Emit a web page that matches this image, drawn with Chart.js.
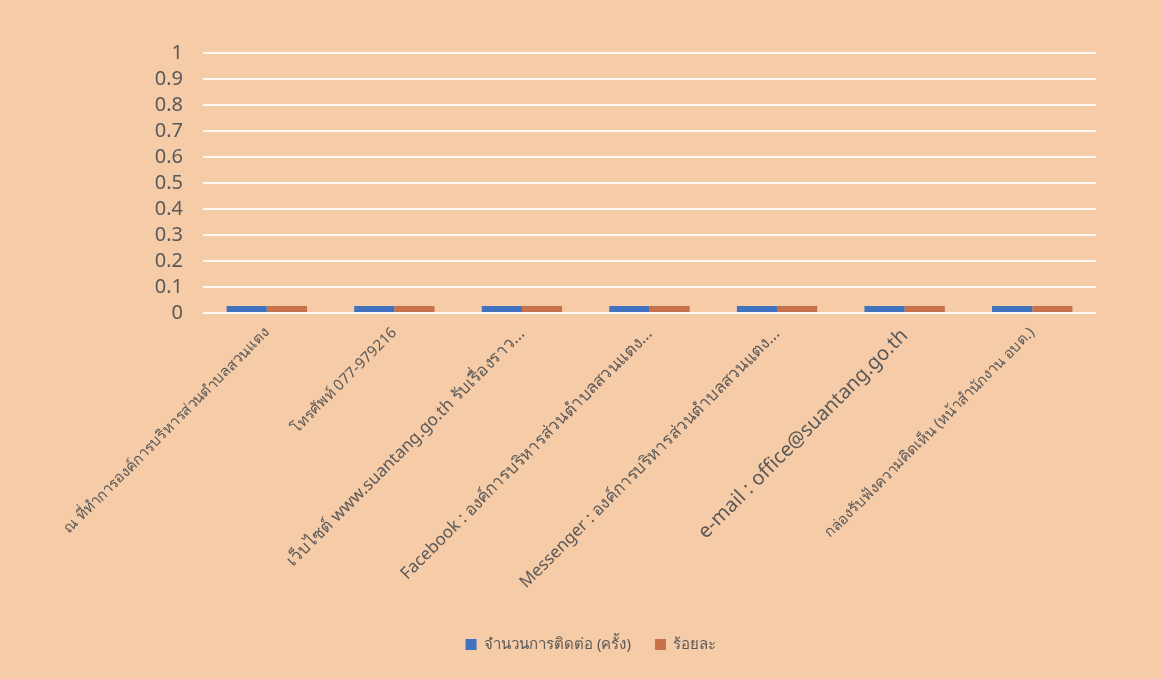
<!DOCTYPE html>
<html>
<head>
<meta charset="utf-8">
<script src="https://cdn.jsdelivr.net/npm/chart.js@4"></script>
<style>
  body { margin: 0; background: #f6cba7; }
  #wrap { width: 1162px; height: 679px; }
</style>
</head>
<body>
<div id="wrap"><canvas id="chart"></canvas></div>
<script>
// ช่องทางการติดต่อ
const channels = [
  'ณ ที่ทำการองค์การบริหารส่วนตำบลสวนแตง',
  'โทรศัพท์ 077-979216',
  'เว็บไซต์ www.suantang.go.th รับเรื่องราว...',
  'Facebook : องค์การบริหารส่วนตำบลสวนแตง...',
  'Messenger : องค์การบริหารส่วนตำบลสวนแตง...',
  'e-mail : office@suantang.go.th',
  'กล่องรับฟังความคิดเห็น (หน้าสำนักงาน อบต.)',
];
const contactCount = [0, 0, 0, 0, 0, 0, 0];
const percentValues = [0, 0, 0, 0, 0, 0, 0];
const yTicks = [0, 0.1, 0.2, 0.3, 0.4, 0.5, 0.6, 0.7, 0.8, 0.9, 1];
const labelSizes = [15, 15, 17, 17, 17, 20, 15];

const fontFamily = "'Noto Sans', 'Open Sans', sans-serif";

new Chart(document.getElementById('chart'), {
  type: 'bar',
  data: {
    labels: channels,
    datasets: [
      {
        label: 'จำนวนการติดต่อ (ครั้ง)',
        data: contactCount,
        backgroundColor: '#4172bd',
        minBarLength: 7,
      },
      {
        label: 'ร้อยละ',
        data: percentValues,
        backgroundColor: '#c8714b',
        minBarLength: 7,
      },
    ],
  },
  options: {
    responsive: true,
    maintainAspectRatio: false,
    animation: false,
    layout: { padding: { top: 53, left: 86, right: 66, bottom: 17 } },
    datasets: { bar: { categoryPercentage: 0.63, barPercentage: 1 } },
    scales: {
      x: {
        grid: { display: false },
        border: { display: false },
        afterFit: (scale) => { scale.height = 300; },
        ticks: {
          minRotation: 45,
          maxRotation: 45,
          color: '#595959',
          font: (ctx) => ({ family: fontFamily, size: labelSizes[ctx.index] || 15 }),
        },
      },
      y: {
        min: 0,
        max: 1,
        afterBuildTicks: (scale) => { scale.ticks = yTicks.map((v) => ({ value: v })); },
        afterFit: (scale) => { scale.width = 117; },
        grid: { color: 'rgba(255,255,255,0.85)', lineWidth: 2, drawTicks: false },
        border: { display: false },
        ticks: {
          autoSkip: false,
          color: '#595959',
          padding: 20,
          callback: (value, index) => String(yTicks[index]),
          font: { family: fontFamily, size: 20 },
        },
      },
    },
    plugins: {
      legend: {
        position: 'bottom',
        labels: {
          color: '#595959',
          boxWidth: 11,
          boxHeight: 11,
          padding: 24,
          font: { family: fontFamily, size: 15 },
        },
      },
      tooltip: { enabled: false },
    },
  },
});
</script>
</body>
</html>
